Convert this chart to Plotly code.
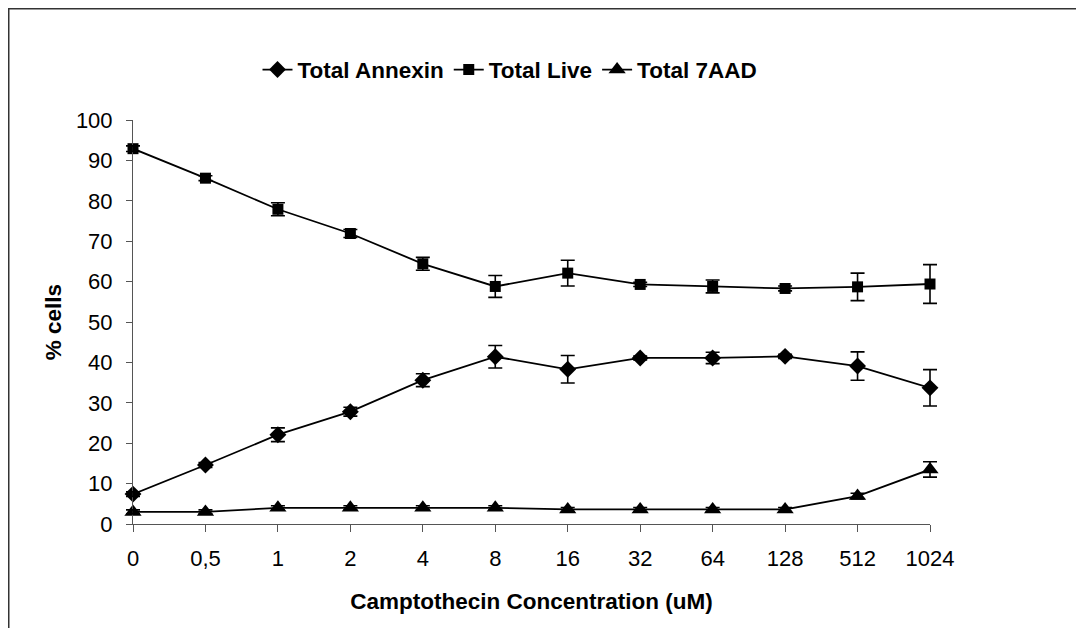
import plotly.graph_objects as go

categories = ["0", "0,5", "1", "2", "4", "8", "16", "32", "64", "128", "512", "1024"]

annexin = [7.4, 14.6, 22.1, 27.8, 35.6, 41.4, 38.3, 41.1, 41.1, 41.5, 39.1, 33.7]
annexin_err = [0.6, 0.6, 1.7, 1.1, 1.6, 2.8, 3.4, 0.5, 1.4, 0.5, 3.5, 4.5]

live = [92.9, 85.6, 77.9, 71.9, 64.4, 58.8, 62.1, 59.3, 58.8, 58.3, 58.7, 59.4]
live_err = [0.7, 0.6, 1.6, 1.0, 1.6, 2.7, 3.2, 0.5, 1.6, 0.6, 3.4, 4.8]

aad = [3.0, 3.0, 4.0, 4.0, 4.0, 4.0, 3.6, 3.6, 3.6, 3.6, 6.9, 13.5]
aad_err = [0.5, 0.5, 0.5, 0.5, 0.5, 0.5, 0.5, 0.5, 0.5, 0.5, 0.7, 1.9]

FONT = "Liberation Sans, Arial, sans-serif"

# layout geometry (px)
W, H = 1084, 628
ML, MR, MT, MB = 105, 142, 112, 112
PAD = 20                      # extra room so error caps at the ends are not clipped
AREA_W = W - ML - MR          # width of the "paper" area
AREA_H = H - MT - MB
STEP = (AREA_W - 2 * PAD) / (len(categories) - 1)
EXT = PAD / STEP

fig = go.Figure()

series = [
    ("Total Annexin", annexin, annexin_err, "diamond", 13),
    ("Total Live", live, live_err, "square", 11),
    ("Total 7AAD", aad, aad_err, "triangle-up", 15),
]

# lines + markers on main axes
for name, y, err, symbol, size in series:
    fig.add_trace(go.Scatter(
        x=categories, y=y, name=name, mode="lines+markers",
        line=dict(color="black", width=1.8),
        marker=dict(symbol=symbol, size=size, color="black"),
        cliponaxis=False, xaxis="x", yaxis="y",
    ))

# error bars on a wider hidden x axis with the same scale (so caps are not clipped)
for name, y, err, symbol, size in series:
    fig.add_trace(go.Scatter(
        x=categories, y=y, mode="markers", showlegend=False, hoverinfo="skip",
        marker=dict(size=1, color="rgba(0,0,0,0)"),
        error_y=dict(type="data", array=err, visible=True, color="black",
                     thickness=1.6, width=7),
        xaxis="x2", yaxis="y",
    ))

fig.update_layout(
    width=W, height=H,
    margin=dict(l=ML, r=MR, t=MT, b=MB),
    paper_bgcolor="white", plot_bgcolor="rgba(0,0,0,0)",
    font=dict(family=FONT, size=22, color="black"),
    showlegend=True,
    legend=dict(orientation="h", x=(502 - ML) / AREA_W, xanchor="center",
                y=1.124, yanchor="middle",
                font=dict(family=FONT, size=22.5, color="black", weight="bold"),
                bgcolor="rgba(0,0,0,0)", tracegroupgap=0),
    xaxis=dict(
        type="category", categoryarray=categories, categoryorder="array",
        domain=[PAD / AREA_W, 1 - PAD / AREA_W],
        range=[0, len(categories) - 1], showline=True, linecolor="#555", linewidth=1,
        ticks="outside", ticklen=7, tickcolor="#555", showgrid=False, zeroline=False,
        ticklabelstandoff=8,
        tickfont=dict(family=FONT, size=22, color="black"),
        title=dict(text="Camptothecin Concentration (uM)", standoff=22,
                   font=dict(family=FONT, size=22.5, color="black", weight="bold")),
    ),
    xaxis2=dict(
        type="category", categoryarray=categories, categoryorder="array",
        domain=[0, 1], anchor="y",
        range=[-EXT, len(categories) - 1 + EXT], visible=False,
        showgrid=False, zeroline=False,
    ),
    yaxis=dict(
        range=[0, 100], dtick=10, showline=True, linecolor="#555", linewidth=1,
        ticks="outside", ticklen=6, tickcolor="#555", showgrid=False, zeroline=False,
        ticklabelstandoff=9,
        tickfont=dict(family=FONT, size=22, color="black"),
        title=dict(text="% cells", standoff=8,
                   font=dict(family=FONT, size=22.5, color="black", weight="bold")),
    ),
    shapes=[dict(type="rect", xref="paper", yref="paper",
                 x0=(0.5 - ML) / AREA_W, x1=(W + 20 - ML) / AREA_W,
                 y0=-0.35, y1=1 + (MT - 0.5) / AREA_H,
                 line=dict(color="#333", width=2), layer="below")],
)

fig.write_html("out.html")
